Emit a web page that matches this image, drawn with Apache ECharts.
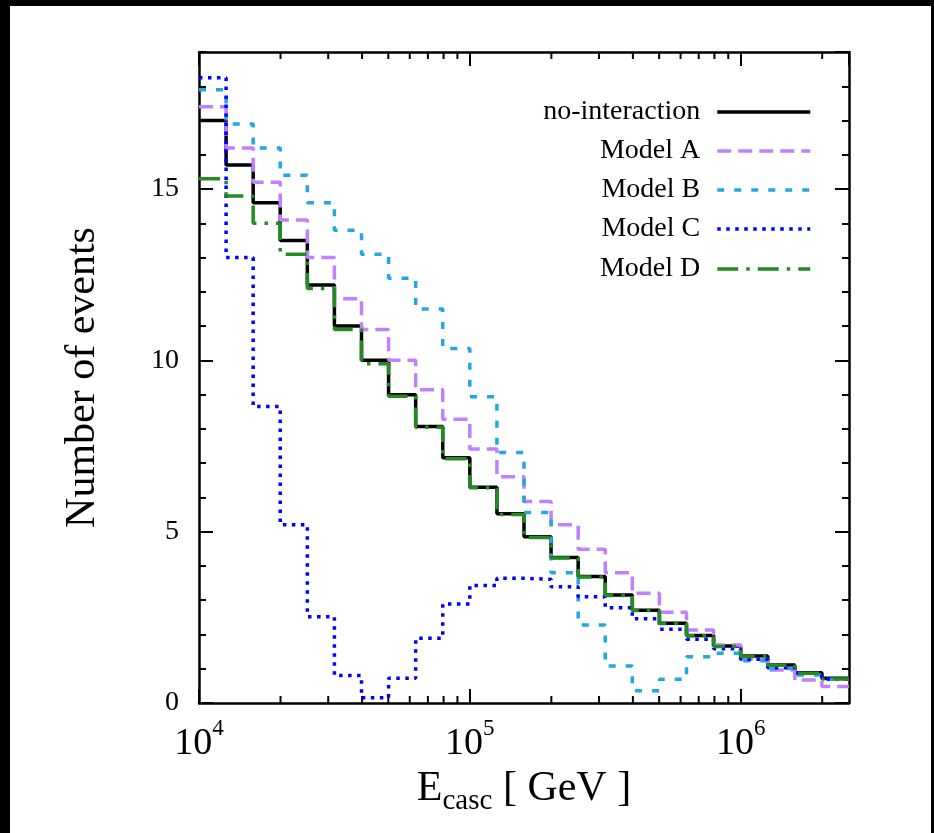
<!DOCTYPE html>
<html>
<head>
<meta charset="utf-8">
<script src="https://cdn.jsdelivr.net/npm/echarts@6/dist/echarts.min.js"></script>
<style>
  html, body { margin: 0; padding: 0; background: #000; }
  #chart { position: absolute; left: 10px; top: 6px; width: 921px; height: 827px; background: #fff; }
</style>
</head>
<body>
<div id="chart"></div>
<script>
// log bins, 10 per decade
const binEdges = [1.000e4, 1.259e4, 1.585e4, 1.995e4, 2.512e4, 3.162e4, 3.981e4, 5.012e4, 6.310e4, 7.943e4,
  1.000e5, 1.259e5, 1.585e5, 1.995e5, 2.512e5, 3.162e5, 3.981e5, 5.012e5, 6.310e5, 7.943e5,
  1.000e6, 1.259e6, 1.585e6, 1.995e6, 2.512e6]

const noInteraction = [17.0, 15.7, 14.6, 13.5, 12.2, 11.0, 10.0, 9.0, 8.07, 7.16, 6.3, 5.52,
  4.85, 4.25, 3.69, 3.15, 2.71, 2.33, 1.97, 1.66, 1.37, 1.11, 0.88, 0.72]
const modelA = [17.4, 16.2, 15.2, 14.1, 13.0, 11.8, 10.9, 10.0, 9.14, 8.28, 7.41, 6.6,
  5.88, 5.2, 4.49, 3.8, 3.2, 2.65, 2.13, 1.69, 1.28, 0.96, 0.67, 0.48]
const modelB = [17.9, 16.9, 16.2, 15.4, 14.6, 13.8, 13.1, 12.4, 11.5, 10.35, 8.94, 7.31,
  5.56, 3.8, 2.28, 1.08, 0.36, 0.69, 1.35, 1.45, 1.23, 1.01, 0.82, 0.69]
const modelC = [18.25, 13.0, 8.65, 5.2, 2.52, 0.8, 0.15, 0.72, 1.89, 2.89, 3.43, 3.64,
  3.61, 3.39, 3.1, 2.78, 2.46, 2.15, 1.86, 1.58, 1.28, 1.03, 0.87, 0.70]
const modelD = [15.3, 14.8, 14.0, 13.1, 12.1, 10.9, 9.9, 8.95, 8.05, 7.13, 6.28, 5.5,
  4.83, 4.23, 3.68, 3.14, 2.7, 2.32, 1.96, 1.65, 1.36, 1.1, 0.87, 0.70]

const xMinorTicks = [2e4, 3e4, 4e4, 5e4, 6e4, 7e4, 8e4, 9e4,
  2e5, 3e5, 4e5, 5e5, 6e5, 7e5, 8e5, 9e5, 2e6]
const yTickLabels = ['0', '5', '10', '15']

const font = "'Liberation Serif', 'DejaVu Serif', serif"
const xMin = 1e4
const xMax = 2.512e6
const yMax = 19

function steps(vals) {
  const d = vals.map((v, i) => [binEdges[i], v])
  d.push([binEdges[vals.length], vals[vals.length - 1]])
  return d
}

const lines = [
  { name: 'no-interaction', data: noInteraction, color: '#000000', type: 'solid' },
  { name: 'Model A', data: modelA, color: '#c080ff', type: [14, 7] },
  { name: 'Model B', data: modelB, color: '#22a7e4', type: [7, 10] },
  { name: 'Model C', data: modelC, color: '#0000ff', type: [3.5, 5.5] },
  { name: 'Model D', data: modelD, color: '#228b22', type: [21, 8, 3.5, 8] }
]
const legendRows = [106, 145, 184, 223, 263]

const chart = echarts.init(document.getElementById('chart'))

const frameLine = { show: true, onZero: false, lineStyle: { color: '#000', width: 2.5 } }

chart.setOption({
  animation: false,
  backgroundColor: '#fff',
  grid: { left: 189, right: 82, top: 46, bottom: 130 },
  legend: lines.map((s, i) => ({
    data: [s.name],
    right: 119,
    top: legendRows[i] - 15,
    padding: 0,
    align: 'right',
    itemWidth: 93,
    itemHeight: 30,
    selectedMode: false,
    itemStyle: { opacity: 0 },
    lineStyle: { width: 3.5 },
    textStyle: { fontFamily: font, fontSize: 28, color: '#000', lineHeight: 30, padding: [0, 12, 0, 0] }
  })),
  xAxis: [{
    type: 'log',
    logBase: 10,
    min: xMin,
    max: xMax,
    position: 'bottom',
    axisLine: frameLine,
    axisTick: { inside: true, length: 14, lineStyle: { color: '#000', width: 2 } },
    splitLine: { show: false },
    axisLabel: {
      margin: 14,
      showMaxLabel: false,
      formatter: v => '{b|10}{s|' + Math.round(Math.log10(v)) + '}',
      rich: {
        b: { fontFamily: font, fontSize: 38, color: '#000', lineHeight: 38, padding: [8, 0, 0, 0], verticalAlign: 'top' },
        s: { fontFamily: font, fontSize: 23, color: '#000', lineHeight: 23, verticalAlign: 'top' }
      }
    },
    name: '{e|E}{sub|casc}{e| [ GeV ]}',
    nameLocation: 'middle',
    nameGap: 62,
    nameTextStyle: {
      rich: {
        e: { fontFamily: font, fontSize: 42, color: '#000', lineHeight: 42, verticalAlign: 'top' },
        sub: { fontFamily: font, fontSize: 29, color: '#000', lineHeight: 29, padding: [19, 0, 0, 0], verticalAlign: 'top' }
      }
    }
  }, {
    type: 'log',
    logBase: 10,
    min: xMin,
    max: xMax,
    position: 'top',
    axisLine: frameLine,
    axisTick: { inside: true, length: 14, lineStyle: { color: '#000', width: 2 } },
    axisLabel: { show: false },
    splitLine: { show: false }
  }],
  yAxis: [{
    type: 'value',
    min: 0,
    max: yMax,
    interval: 5,
    position: 'left',
    axisLine: frameLine,
    axisTick: { inside: true, length: 14, lineStyle: { color: '#000', width: 2 } },
    splitLine: { show: false },
    axisLabel: {
      margin: 20,
      showMaxLabel: false,
      fontFamily: font,
      fontSize: 28,
      color: '#000',
      formatter: v => yTickLabels.includes(String(v)) ? String(v) : ''
    },
    name: 'Number of events',
    nameLocation: 'middle',
    nameGap: 95,
    nameTextStyle: { fontFamily: font, fontSize: 42, color: '#000' }
  }, {
    type: 'value',
    min: 0,
    max: yMax,
    interval: 1,
    position: 'left',
    axisLine: { show: false },
    axisTick: { inside: true, length: 7, lineStyle: { color: '#000', width: 2 } },
    axisLabel: { show: false },
    splitLine: { show: false }
  }, {
    type: 'value',
    min: 0,
    max: yMax,
    interval: 5,
    position: 'right',
    axisLine: frameLine,
    axisTick: { inside: true, length: 14, lineStyle: { color: '#000', width: 2 } },
    axisLabel: { show: false },
    splitLine: { show: false }
  }, {
    type: 'value',
    min: 0,
    max: yMax,
    interval: 1,
    position: 'right',
    axisLine: { show: false },
    axisTick: { inside: true, length: 7, lineStyle: { color: '#000', width: 2 } },
    axisLabel: { show: false },
    splitLine: { show: false }
  }],
  series: [{
    type: 'custom',
    silent: true,
    xAxisIndex: 0,
    yAxisIndex: 0,
    data: xMinorTicks.map(v => [v, 0]),
    renderItem: (params, api) => {
      const b = api.coord([api.value(0), 0])
      const t = api.coord([api.value(0), yMax])
      const st = { stroke: '#000', lineWidth: 2 }
      return {
        type: 'group',
        children: [
          { type: 'line', shape: { x1: b[0], y1: b[1], x2: b[0], y2: b[1] - 7 }, style: st },
          { type: 'line', shape: { x1: t[0], y1: t[1], x2: t[0], y2: t[1] + 7 }, style: st }
        ]
      }
    }
  }].concat(lines.map(s => ({
    name: s.name,
    type: 'line',
    step: 'end',
    xAxisIndex: 0,
    yAxisIndex: 0,
    symbol: 'none',
    color: s.color,
    lineStyle: { color: s.color, width: 3.5, type: s.type },
    data: steps(s.data)
  })))
})
</script>
</body>
</html>
